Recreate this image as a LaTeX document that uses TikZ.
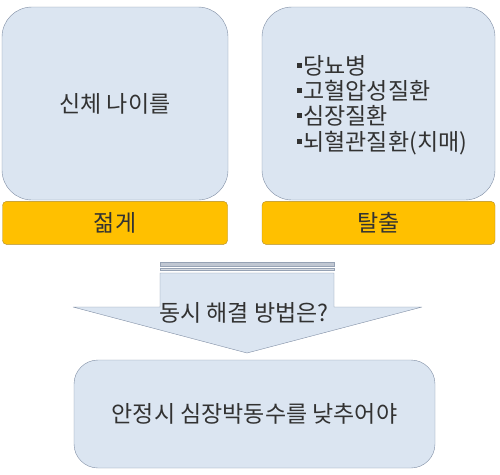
\documentclass[tikz,border=0pt]{standalone}
\usepackage{fontspec}
\setmainfont{Noto Sans CJK KR}
\usepackage{xcolor}
\definecolor{boxblue}{RGB}{219,229,241}
\definecolor{boxline}{RGB}{128,142,164}
\definecolor{baryellow}{RGB}{255,192,0}
\definecolor{barline}{RGB}{176,140,40}
\definecolor{txtgray}{RGB}{50,50,50}
\definecolor{stripegray}{RGB}{150,162,180}
\usetikzlibrary{positioning}
\newcommand{\sqbullet}{\rule[0.28em]{0.22em}{0.22em}\hspace{0.08em}}
\tikzset{
  bluebox/.style={draw=boxline, fill=boxblue, rounded corners=30pt, inner sep=0pt},
  yellowbar/.style={draw=barline, fill=baryellow, rounded corners=4pt, inner sep=0pt,
    minimum height=43pt, text=txtgray},
  bigtext/.style={font=\fontsize{23}{25.3}\selectfont, text=txtgray}
}

\begin{document}
\begin{tikzpicture}[x=1pt, y=-1pt]
\useasboundingbox (0,0) rectangle (500,474);

% === Left column ===
\node[bluebox, bigtext, minimum width=226pt, minimum height=193pt] (agebox) at (115,103.5) {신체 나이를};
\node[yellowbar, bigtext, minimum width=225pt, below=1pt of agebox] (youngbar) {젊게};

% === Right column ===
\node[bluebox, minimum width=233pt, minimum height=193pt] (diseasebox) at (378.5,103.5) {};
\node[bigtext, align=left, anchor=west] (diseaselist) at (293,105)
     {\sqbullet 당뇨병\\\sqbullet 고혈압성질환\\\sqbullet 심장질환\\\sqbullet 뇌혈관질환(치매)};
\node[yellowbar, bigtext, minimum width=233pt, below=1pt of diseasebox] (escapebar) {탈출};

% === Down arrow ===
\draw[draw=boxline, fill=boxblue, line join=round]
  (160,273) -- (334,273) -- (334,307) -- (422,307) -- (247,353) -- (73,307) -- (160,307) -- cycle;
\draw[draw=stripegray, fill=stripegray!60] (160,262) rectangle (334,266);
\draw[draw=stripegray, fill=stripegray!40] (160,268.5) rectangle (334,270.5);
\node[bigtext] (question) at (244,313) {동시 해결 방법은?};

% === Bottom box ===
\node[bluebox, bigtext, rounded corners=24pt, minimum width=361pt, minimum height=108pt] (answerbox) at (254.5,414)
     {안정시 심장박동수를 낮추어야};

\end{tikzpicture}
\end{document}
